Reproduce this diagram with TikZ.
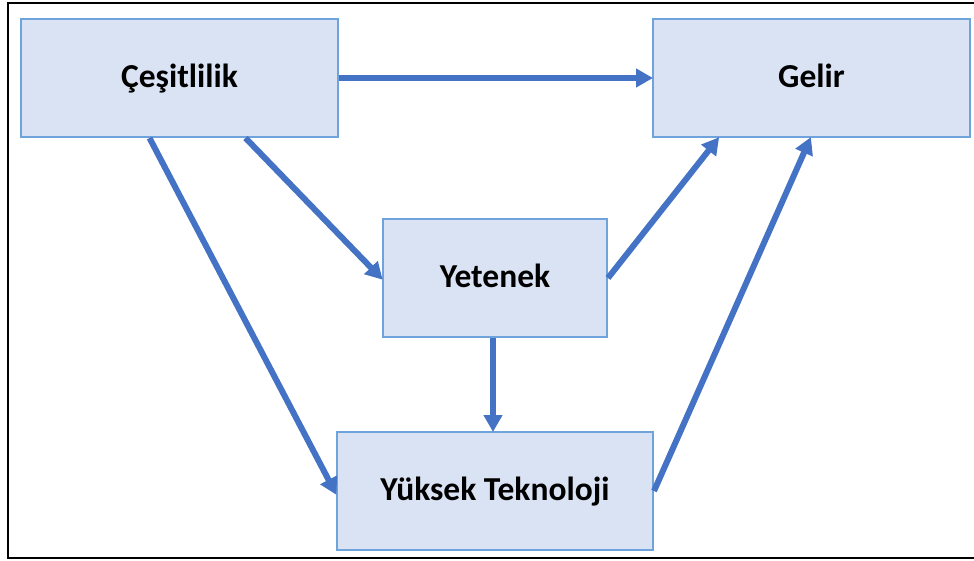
\documentclass[tikz,border=0pt]{standalone}
\usepackage{fontspec}
\setmainfont{Carlito}
\usetikzlibrary{arrows.meta,calc}
\definecolor{boxfill}{HTML}{DAE3F3}
\definecolor{boxline}{HTML}{6FA3DC}
\definecolor{arrowblue}{HTML}{4472C4}
\tikzset{
  factor/.style={draw=boxline, line width=2pt, fill=boxfill, minimum height=118pt,
    inner sep=0pt, text height=24pt, text depth=6pt,
    font=\fontsize{33.5}{40}\selectfont\bfseries, text=black},
  link/.style={draw=arrowblue, line width=6pt,
    -{Triangle[length=17pt,width=18pt]}, shorten >=-1pt}
}
\begin{document}
\begin{tikzpicture}[x=1pt,y=-1pt]
  \useasboundingbox (0,0) rectangle (974,560);
  % outer frame, open past the right edge
  \draw[line width=2.5pt, black] (1000,3) -- (8,3) -- (8,558) -- (1000,558);

  \node[factor, minimum width=317pt] (cesit) at (179.5,78) {Çeşitlilik};
  \node[factor, minimum width=317pt] (gelir) at (811.5,78) {Gelir};
  \node[factor, minimum width=224pt] (yetenek) at (495,278) {Yetenek};
  \node[factor, minimum width=316pt] (yuksek) at (495,491) {Yüksek Teknoloji};

  \draw[link] (cesit.east) -- (gelir.west);
  \draw[link] ([xshift=66pt]cesit.south) -- ([yshift=-1pt]yetenek.west);
  \draw[link] ([xshift=-30pt]cesit.south) -- ([yshift=-3pt]yuksek.west);
  \draw[link] (yetenek.east) -- ([xshift=-93pt]gelir.south);
  \draw[link] ([xshift=-2pt]yetenek.south) -- ([xshift=-2pt]yuksek.north);
  \draw[link] (yuksek.east) -- ([xshift=-1pt]gelir.south);
\end{tikzpicture}
\end{document}
